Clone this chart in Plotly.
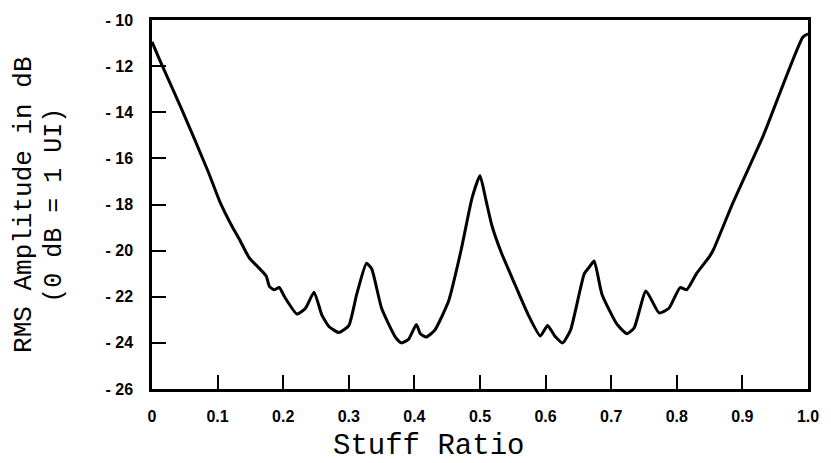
import plotly.graph_objects as go

# Data
stuff_ratio = [0.0, 0.012, 0.045, 0.086, 0.103, 0.123, 0.133, 0.148, 0.174, 0.179,
               0.186, 0.194, 0.202, 0.221, 0.234, 0.247, 0.259, 0.270, 0.285, 0.300,
               0.312, 0.327, 0.335, 0.350, 0.371, 0.380, 0.391, 0.403, 0.409, 0.418,
               0.431, 0.452, 0.471, 0.488, 0.500, 0.509, 0.518, 0.532, 0.553, 0.573,
               0.592, 0.603, 0.614, 0.626, 0.638, 0.659, 0.667, 0.674, 0.686, 0.709,
               0.724, 0.735, 0.753, 0.773, 0.788, 0.805, 0.815, 0.830, 0.850, 0.856,
               0.886, 0.932, 0.992, 1.0]
rms_db = [-10.95, -11.75, -13.85, -16.6, -17.85, -19.0, -19.5, -20.3, -21.1, -21.55,
          -21.7, -21.6, -22.0, -22.75, -22.5, -21.8, -22.8, -23.3, -23.55, -23.25,
          -21.9, -20.55, -20.8, -22.5, -23.75, -24.0, -23.85, -23.2, -23.6, -23.75,
          -23.45, -22.2, -20.0, -17.7, -16.75, -17.8, -18.9, -20.05, -21.45, -22.75,
          -23.7, -23.25, -23.7, -24.0, -23.45, -21.0, -20.7, -20.45, -21.9, -23.2,
          -23.6, -23.35, -21.75, -22.7, -22.5, -21.6, -21.7, -21.0, -20.25, -19.95,
          -17.9, -15.0, -10.75, -10.6]

x_tickvals = [0.0, 0.1, 0.2, 0.3, 0.4, 0.5, 0.6, 0.7, 0.8, 0.9, 1.0]
x_ticktext = ["0", "0.1", "0.2", "0.3", "0.4", "0.5", "0.6", "0.7", "0.8", "0.9", "1.0"]
y_tickvals = [-26, -24, -22, -20, -18, -16, -14, -12, -10]
y_ticktext = ["- 26", "- 24", "- 22", "- 20", "- 18", "- 16", "- 14", "- 12", "- 10"]

x_title = "Stuff Ratio"
y_title_1 = "RMS Amplitude in dB"
y_title_2 = "(0 dB = 1 UI)"

fig = go.Figure()
fig.add_trace(go.Scatter(
    x=stuff_ratio, y=rms_db, mode="lines",
    line=dict(color="black", width=3, shape="spline", smoothing=0.5),
    showlegend=False, hoverinfo="skip",
))

tick_font = dict(family="Liberation Sans, Arial, sans-serif", size=16, color="black", weight="bold")
title_font_family = "Liberation Mono, Courier New, monospace"

fig.update_layout(
    width=831, height=463,
    margin=dict(l=152, r=19, t=16, b=74),
    paper_bgcolor="white", plot_bgcolor="white",
    xaxis=dict(
        range=[0, 1], tickvals=x_tickvals, ticktext=x_ticktext,
        showline=True, mirror=True, linecolor="black", linewidth=2.5,
        ticks="inside", ticklen=14, tickwidth=2, tickcolor="black",
        showgrid=False, zeroline=False, tickfont=tick_font, ticklabelstandoff=11,
    ),
    yaxis=dict(
        range=[-26, -10], tickvals=y_tickvals, ticktext=y_ticktext,
        showline=True, mirror=True, linecolor="black", linewidth=2.5,
        ticks="inside", ticklen=14, tickwidth=2, tickcolor="black",
        showgrid=False, zeroline=False, tickfont=tick_font, ticklabelstandoff=13,
    ),
    annotations=[
        dict(text=x_title, xref="paper", yref="paper", x=0.421, y=-0.155,
             xanchor="center", yanchor="middle", showarrow=False,
             font=dict(family=title_font_family, size=29, color="black")),
        dict(text=y_title_1, xref="paper", yref="paper", x=-0.195, y=0.499,
             xanchor="center", yanchor="middle", showarrow=False, textangle=-90,
             font=dict(family=title_font_family, size=26, color="black")),
        dict(text=y_title_2, xref="paper", yref="paper", x=-0.148, y=0.499,
             xanchor="center", yanchor="middle", showarrow=False, textangle=-90,
             font=dict(family=title_font_family, size=25, color="black")),
    ],
)

fig.write_html("out.html")
